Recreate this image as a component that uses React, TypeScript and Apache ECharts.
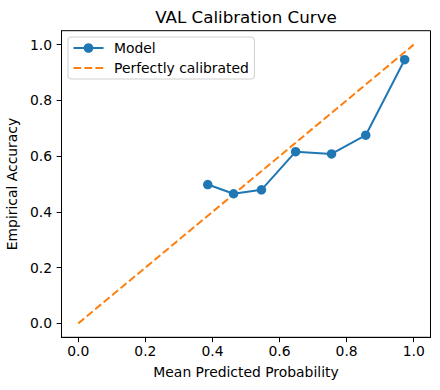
import React, { useEffect, useRef } from "react";
import * as echarts from "echarts";

const meanPredicted = [0.386, 0.463, 0.546, 0.648, 0.755, 0.857, 0.973];
const empiricalAccuracy = [0.498, 0.465, 0.479, 0.616, 0.608, 0.675, 0.946];
const perfectX = [0, 1];
const perfectY = [0, 1];
const tickValues = [0, 0.2, 0.4, 0.6, 0.8, 1.0];

const FONT = "DejaVu Sans";

export default function App() {
  const ref = useRef<HTMLDivElement>(null);
  useEffect(() => {
    if (!ref.current) return;
    const chart = echarts.init(ref.current, undefined, { renderer: "svg" });
    const axisCommon = {
      type: "value" as const,
      min: -0.05,
      max: 1.05,
      splitLine: { show: false },
      axisLine: { show: true, onZero: false, lineStyle: { color: "#000", width: 1 } },
      axisTick: { show: true, customValues: tickValues, length: 4.9, lineStyle: { color: "#000", width: 1 } },
      axisLabel: {
        customValues: tickValues,
        formatter: (v: number) => v.toFixed(1),
        color: "#000",
        fontFamily: FONT,
        fontSize: 13.9,
      },
      nameLocation: "middle" as const,
      nameTextStyle: { color: "#000", fontFamily: FONT, fontSize: 13.9 },
    };
    chart.setOption({
      animation: false,
      backgroundColor: "#fff",
      title: {
        text: "VAL Calibration Curve",
        left: "246",
        textAlign: "center",
        top: 8,
        padding: 0,
        textStyle: { fontFamily: FONT, fontSize: 16.7, fontWeight: "normal", color: "#000" },
      },
      grid: {
        left: 61.5,
        right: 9.5,
        top: 30.7,
        bottom: 52.7,
        containLabel: false,
        outerBoundsMode: "none",
        show: true,
        borderColor: "#000",
        borderWidth: 1,
        backgroundColor: "transparent",
      },
      legend: {
        orient: "vertical",
        left: 68,
        top: 37,
        padding: [4, 5.5, 4, 4.5],
        itemWidth: 30,
        itemHeight: 12,
        itemGap: 6,
        backgroundColor: "rgba(255,255,255,0.8)",
        borderColor: "#d0d0d0",
        borderWidth: 1,
        borderRadius: 3,
        textStyle: { fontFamily: FONT, fontSize: 13.9, color: "#000", padding: [0, 0, 0, 5.5] },
        data: [
          { name: "Model" },
          { name: "Perfectly calibrated", itemStyle: { opacity: 0 } },
        ],
      },
      xAxis: {
        ...axisCommon,
        name: "Mean Predicted Probability",
        nameGap: 28,
        axisLabel: { ...axisCommon.axisLabel, margin: 7 },
      },
      yAxis: {
        ...axisCommon,
        name: "Empirical Accuracy",
        nameGap: 35.5,
        axisLabel: { ...axisCommon.axisLabel, margin: 9.5 },
      },
      series: [
        {
          name: "Model",
          type: "line",
          data: meanPredicted.map((x, i) => [x, empiricalAccuracy[i]]),
          symbol: "circle",
          symbolSize: 9.5,
          color: "#1f77b4",
          lineStyle: { color: "#1f77b4", width: 2 },
          itemStyle: { color: "#1f77b4" },
        },
        {
          name: "Perfectly calibrated",
          type: "line",
          data: perfectX.map((x, i) => [x, perfectY[i]]),
          symbol: "none",
          color: "#ff7f0e",
          lineStyle: { color: "#ff7f0e", width: 2, type: [7.7, 3.3] },
        },
      ],
    });
    return () => chart.dispose();
  }, []);
  return <div ref={ref} style={{ width: 440, height: 390, position: "absolute", left: 0, top: 0 }} />;
}
